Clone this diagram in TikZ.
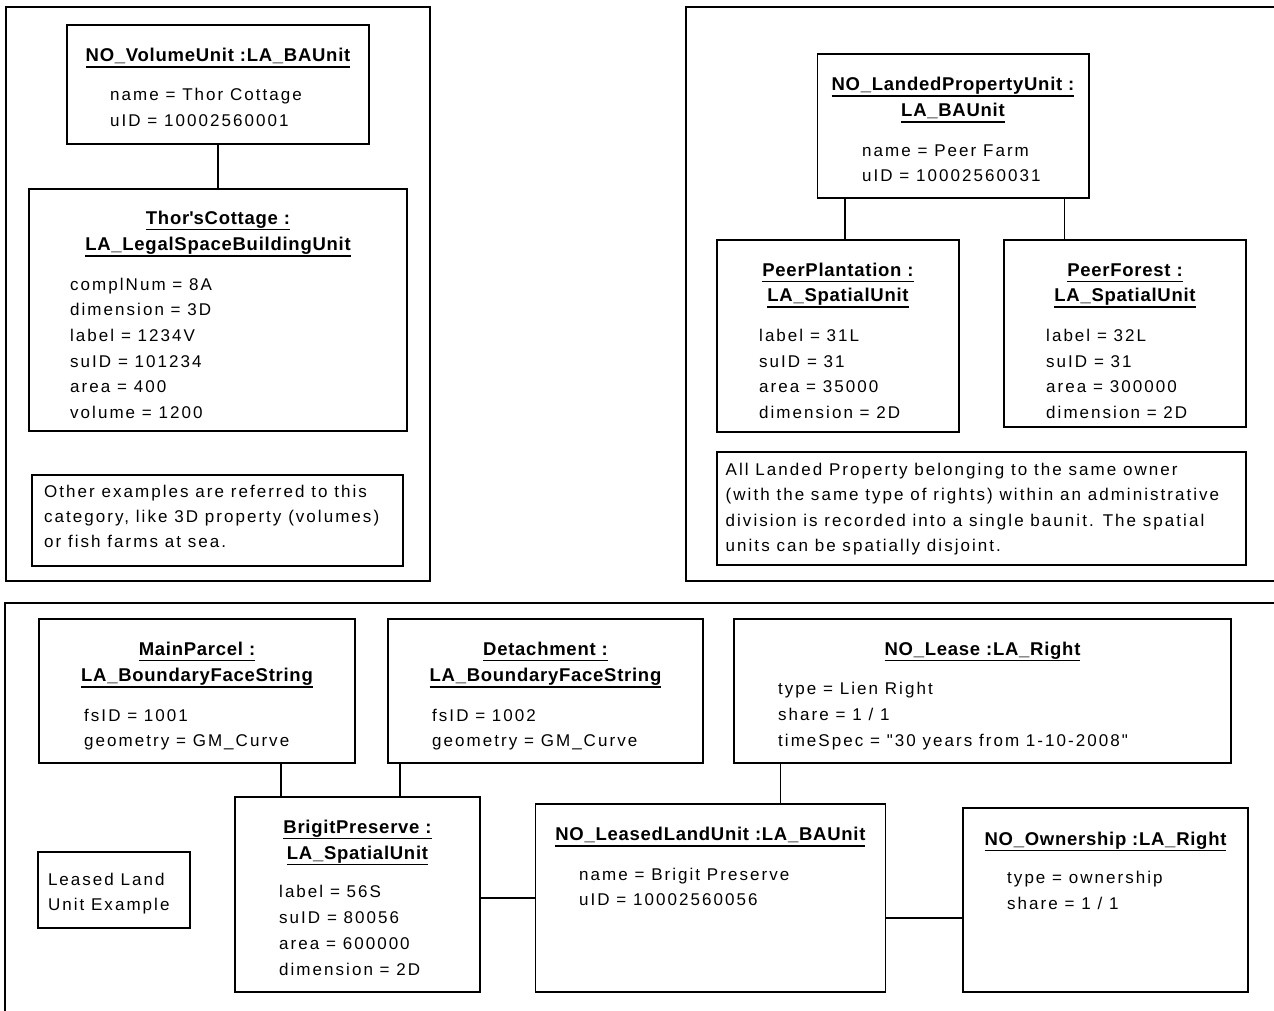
\documentclass[tikz,border=0pt]{standalone}
\usepackage{fontspec}
\setmainfont{Liberation Sans}
\newfontfamily\attrfam[LetterSpace=12]{Liberation Sans}
\newfontfamily\ttlfam[LetterSpace=4]{Liberation Sans}
\usetikzlibrary{fit}
\newcommand\attrf{\attrfam\fontsize{17}{20}\selectfont}
\newcommand\titlef{\ttlfam\bfseries\fontsize{18.5}{21}\selectfont}
\newcommand\ulx[1]{\setbox0\hbox{#1}\rlap{\rule[-6pt]{\wd0}{1.5pt}}\box0}
\tikzset{
  umlbox/.style={draw, line width=1.6pt, inner sep=0pt},
  framebox/.style={draw, line width=1.6pt},
  ttl/.style={anchor=base, inner sep=0pt, font=\titlef},
  att/.style={anchor=base west, inner sep=0pt, font=\attrf},
  conn/.style={line width=1.3pt}
}
\begin{document}
\begin{tikzpicture}[x=1pt,y=-1pt]
\useasboundingbox (0,0) rectangle (1274,1010);
\clip (0,0) rectangle (1274,1010);
\fill[white] (0,0) rectangle (1274,1010);

% frames
\draw[framebox] (6,7) rectangle (430,581);
\draw[framebox] (686,7) rectangle (1290,581);
\draw[framebox] (5,603) rectangle (1290,1030);

% ---------- top left ----------
\node[umlbox, fit={(67,25) (369,144)}] (vol) {};
\node[ttl] (volt) at (218,61.7) {\ulx{NO\_VolumeUnit :LA\_BAUnit}};
\node[att] (vola1) at (110,100) {name = Thor Cottage};
\node[att] (vola2) at (110,126) {uID = 10002560001};

\node[umlbox, fit={(29,189) (407,431)}] (thor) {};
\node[ttl] (thort1) at (218,224) {\ulx{Thor\textquotesingle sCottage :}};
\node[ttl] (thort2) at (218,250.7) {\ulx{LA\_LegalSpaceBuildingUnit}};
\node[att] (thora1) at (70,290) {complNum = 8A};
\node[att] (thora2) at (70,315.7) {dimension = 3D};
\node[att] (thora3) at (70,341.7) {label = 1234V};
\node[att] (thora4) at (70,367.3) {suID = 101234};
\node[att] (thora5) at (70,392.7) {area = 400};
\node[att] (thora6) at (70,418.3) {volume = 1200};

\draw[conn] (vol.south) -- (thor.north);

\node[umlbox, fit={(32,475) (403,566)}] (note1) {};
\node[att] (n1a) at (44,497.3) {Other examples are referred to this};
\node[att] (n1b) at (44,522.3) {category, like 3D property (volumes)};
\node[att] (n1c) at (44,547.7) {or fish farms at sea.};

% ---------- top right ----------
\node[umlbox, fit={(817.5,54) (1089,198)}] (landed) {};
\node[ttl] (landt1) at (953,90.7) {\ulx{NO\_LandedPropertyUnit :}};
\node[ttl] (landt2) at (953,116.7) {\ulx{LA\_BAUnit}};
\node[att] (landa1) at (862,156) {name = Peer Farm};
\node[att] (landa2) at (862,181.7) {uID = 10002560031};

\node[umlbox, fit={(717,240) (959,432)}] (plant) {};
\node[ttl] (plantt1) at (838,276) {\ulx{PeerPlantation :}};
\node[ttl] (plantt2) at (838,301.7) {\ulx{LA\_SpatialUnit}};
\node[att] (planta1) at (759,341.7) {label = 31L};
\node[att] (planta2) at (759,367.3) {suID = 31};
\node[att] (planta3) at (759,392.7) {area = 35000};
\node[att] (planta4) at (759,418.3) {dimension = 2D};

\node[umlbox, fit={(1004,240) (1246,427)}] (forest) {};
\node[ttl] (forestt1) at (1125,276) {\ulx{PeerForest :}};
\node[ttl] (forestt2) at (1125,301.7) {\ulx{LA\_SpatialUnit}};
\node[att] (foresta1) at (1046,341.7) {label = 32L};
\node[att] (foresta2) at (1046,367.3) {suID = 31};
\node[att] (foresta3) at (1046,392.7) {area = 300000};
\node[att] (foresta4) at (1046,418.3) {dimension = 2D};

\coordinate (cx1) at (845,0);
\coordinate (cx2) at (1064.5,0);
\draw[conn] (landed.south -| cx1) -- (plant.north -| cx1);
\draw[conn] (landed.south -| cx2) -- (forest.north -| cx2);

\node[umlbox, fit={(717,452) (1246,565)}] (note2) {};
\node[att] (n2a) at (725.5,475) {All Landed Property belonging to the same owner};
\node[att] (n2b) at (725.5,500.7) {(with the same type of rights) within an administrative};
\node[att] (n2c) at (725.5,526) {division is recorded into a single baunit. The spatial};
\node[att] (n2d) at (725.5,551.7) {units can be spatially disjoint.};

% ---------- bottom ----------
\node[umlbox, fit={(39,619) (355,763)}] (main) {};
\node[ttl] (maint1) at (197,655) {\ulx{MainParcel :}};
\node[ttl] (maint2) at (197,681.7) {\ulx{LA\_BoundaryFaceString}};
\node[att] (maina1) at (84,721) {fsID = 1001};
\node[att] (maina2) at (84,746.7) {geometry = GM\_Curve};

\node[umlbox, fit={(388,619) (703,763)}] (det) {};
\node[ttl] (dett1) at (545.5,655) {\ulx{Detachment :}};
\node[ttl] (dett2) at (545.5,681.7) {\ulx{LA\_BoundaryFaceString}};
\node[att] (deta1) at (432,721) {fsID = 1002};
\node[att] (deta2) at (432,746.7) {geometry = GM\_Curve};

\node[umlbox, fit={(734,619) (1231,763)}] (lease) {};
\node[ttl] (leaset) at (982.5,655) {\ulx{NO\_Lease :LA\_Right}};
\node[att] (leasea1) at (778,694) {type = Lien Right};
\node[att] (leasea2) at (778,720) {share = 1 / 1};
\node[att] (leasea3) at (778,746) {timeSpec = "30 years from 1-10-2008"};

\node[umlbox, fit={(235,797) (480,992)}] (brigit) {};
\node[ttl] (brigt1) at (357.5,833.3) {\ulx{BrigitPreserve :}};
\node[ttl] (brigt2) at (357.5,859.3) {\ulx{LA\_SpatialUnit}};
\node[att] (briga1) at (279,897.3) {label = 56S};
\node[att] (briga2) at (279,923.3) {suID = 80056};
\node[att] (briga3) at (279,949.3) {area = 600000};
\node[att] (briga4) at (279,975) {dimension = 2D};

\node[umlbox, fit={(535.4,804) (885.4,992)}] (leased) {};
\node[ttl] (leasedt) at (710.4,840.7) {\ulx{NO\_LeasedLandUnit :LA\_BAUnit}};
\node[att] (leaseda1) at (579,880) {name = Brigit Preserve};
\node[att] (leaseda2) at (579,905) {uID = 10002560056};

\node[umlbox, fit={(963,808) (1248,992)}] (own) {};
\node[ttl] (ownt) at (1105.5,845) {\ulx{NO\_Ownership :LA\_Right}};
\node[att] (owna1) at (1007,883.3) {type = ownership};
\node[att] (owna2) at (1007,909.3) {share = 1 / 1};

\node[umlbox, fit={(38,852) (190,928)}] (lnote) {};
\node[att] (lna) at (47.8,885) {Leased Land};
\node[att] (lnb) at (47.8,910.7) {Unit Example};

\coordinate (bx1) at (281,0);
\coordinate (bx2) at (400,0);
\coordinate (bx3) at (780.6,0);
\coordinate (by1) at (0,898);
\coordinate (by2) at (0,918);
\draw[conn] (main.south -| bx1) -- (brigit.north -| bx1);
\draw[conn] (det.south -| bx2) -- (brigit.north -| bx2);
\draw[conn] (lease.south -| bx3) -- (leased.north -| bx3);
\draw[conn] (brigit.east |- by1) -- (leased.west |- by1);
\draw[conn] (leased.east |- by2) -- (own.west |- by2);
\end{tikzpicture}
\end{document}
